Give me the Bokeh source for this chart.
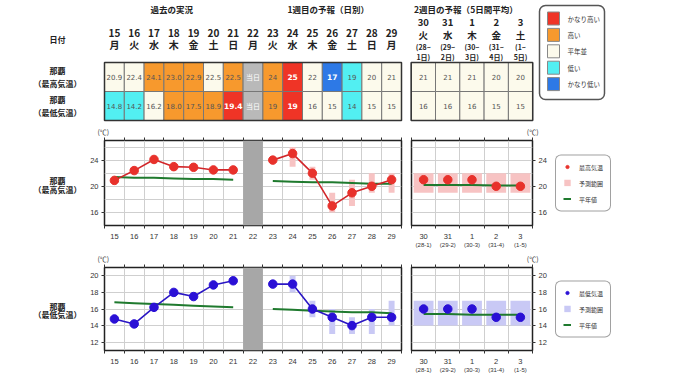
from bokeh.plotting import figure
from bokeh.models import Range1d, FixedTicker, LinearAxis, Legend, LegendItem, Title, Quad
from bokeh.layouts import row, column
from bokeh.embed import file_html
from bokeh.resources import INLINE
from bokeh.core.properties import value

# ---------------- data ----------------
station = "那覇"
label_head = "日付"
label_hi = "（最高気温）"
label_lo = "（最低気温）"
section_titles = ["過去の実況", "1週目の予報（日別）", "2週目の予報（5日間平均）"]
today_label = "当日"

days_w1 = ["15", "16", "17", "18", "19", "20", "21", "22", "23", "24", "25", "26", "27", "28", "29"]
wdays_w1 = ["月", "火", "水", "木", "金", "土", "日", "月", "火", "水", "木", "金", "土", "日", "月"]
days_w2 = ["30", "31", "1", "2", "3"]
wdays_w2 = ["火", "水", "木", "金", "土"]
span_head_1 = ["(28~", "(29~", "(30~", "(31~", "(1~"]
span_head_2 = ["1日)", "2日)", "3日)", "4日)", "5日)"]
span_axis = ["(28-1)", "(29-2)", "(30-3)", "(31-4)", "(1-5)"]

hi_obs = [20.9, 22.4, 24.1, 23.0, 22.9, 22.5, 22.5]
hi_fc = [24, 25, 22, 17, 19, 20, 21]
hi_fc_low = [None, 23, 21, 16, 17, 19, 19]
hi_fc_high = [None, 26, 23, 19, 21, 22, 22]
hi_w2 = [21, 21, 21, 20, 20]
hi_w2_low = [19, 19, 19, 19, 19]
hi_w2_high = [22, 22, 22, 22, 22]
hi_normal_w1 = [21.4, 21.3, 21.3, 21.2, 21.1, 21.1, 21.0, 20.9, 20.8, 20.7, 20.6, 20.6, 20.5, 20.4, 20.4]
hi_normal_w2 = [20.2, 20.2, 20.2, 20.1, 20.1]
hi_class_w1 = ["n", "n", "h", "h", "h", "n", "h", "t", "h", "vh", "n", "vl", "l", "n", "n"]
hi_class_w2 = ["n", "n", "n", "n", "n"]

lo_obs = [14.8, 14.2, 16.2, 18.0, 17.5, 18.9, 19.4]
lo_fc = [19, 19, 16, 15, 14, 15, 15]
lo_fc_low = [None, 18, 15, 13, 13, 13, 14]
lo_fc_high = [None, 20, 17, 16, 15, 16, 17]
lo_w2 = [16, 16, 16, 15, 15]
lo_w2_low = [14, 14, 14, 14, 14]
lo_w2_high = [17, 17, 17, 17, 17]
lo_normal_w1 = [16.8, 16.7, 16.6, 16.5, 16.4, 16.3, 16.2, 16.1, 16.0, 15.9, 15.8, 15.7, 15.6, 15.6, 15.5]
lo_normal_w2 = [15.4, 15.4, 15.3, 15.3, 15.3]
lo_class_w1 = ["l", "l", "n", "h", "h", "h", "vh", "t", "h", "vh", "n", "n", "l", "n", "n"]
lo_class_w2 = ["n", "n", "n", "n", "n"]

class_keys = ["vh", "h", "n", "l", "vl"]
class_names = ["かなり高い", "高い", "平年並", "低い", "かなり低い"]
series_hi = ["最高気温", "予測範囲", "平年値"]
series_lo = ["最低気温", "予測範囲", "平年値"]

# ---------------- style ----------------
JP = "Noto Sans CJK JP"
SANS = "Liberation Sans"
CELL_FONT = "DejaVu Sans"
TXT = "#222222"
CLASS_COLORS = {"vh": "#ef3426", "h": "#f7992d", "n": "#fcfaec", "l": "#52eff2",
                "vl": "#2d79e6", "t": "#b9b9b9"}
STRONG = {"vh", "vl"}

ROW_A_H = 122
LABEL_W = 82
W1_W = 321
W2_W = 151
T2_W = 132
LEG_A_W = 77
LEGF_W = 70
COL1 = 19.8
COL2 = 24.3
W1_LEFT = 104
W2_LEFT = 410.7
CELL_TOP = 62
CELL_H = 29
LABEL_X = 57

HAS_QUAD_RADIUS = "border_radius" in Quad.properties()
HAS_LEG_RADIUS = "border_radius" in Legend.properties()


def new_fig(width, height, xr, yr, **kw):
    p = figure(width=width, height=height, x_range=xr, y_range=yr, output_backend="svg",
               toolbar_location=None, tools="", **kw)
    p.background_fill_color = "white"
    p.border_fill_color = "white"
    return p


def blank_fig(width, height, xr, yr=None, top_pad=0):
    p = new_fig(width, height, xr, yr if yr is not None else Range1d(height, 0),
                x_axis_location=None, y_axis_location=None, min_border_left=0,
                min_border_right=0, min_border_top=top_pad, min_border_bottom=0)
    p.grid.visible = False
    p.outline_line_color = None
    return p


def put_text(p, xs, ys, texts, size, color=TXT, bold=False, font=JP, align="center"):
    p.text(x=list(xs), y=list(ys), text=list(texts), text_font=value(font),
           text_font_size=value(size), text_color=color,
           text_font_style="bold" if bold else "normal",
           text_align=align, text_baseline="middle")


def cell_texts(obs, fc, classes):
    out = [f"{v:.1f}" for v in obs] + [today_label] + [str(v) for v in fc]
    return out[:len(classes)]


def draw_table(p, rows):
    n = len(rows[0][0])
    for r, (classes, texts) in enumerate(rows):
        top = CELL_TOP + CELL_H * r
        bot = top + CELL_H
        p.quad(left=list(range(n)), right=[i + 1 for i in range(n)], top=[top] * n,
               bottom=[bot] * n, fill_color=[CLASS_COLORS[c] for c in classes],
               line_color="#777777", line_width=1)
        ymid = top + CELL_H / 2
        norm = [i for i, c in enumerate(classes) if c not in STRONG and c != "t"]
        strong = [i for i, c in enumerate(classes) if c in STRONG]
        today = [i for i, c in enumerate(classes) if c == "t"]
        put_text(p, [i + 0.5 for i in norm], [ymid] * len(norm), [texts[i] for i in norm],
                 "7px", color="#555555", font=CELL_FONT)
        put_text(p, [i + 0.5 for i in strong], [ymid] * len(strong), [texts[i] for i in strong],
                 "7.5px", color="white", bold=True, font=CELL_FONT)
        put_text(p, [i + 0.5 for i in today], [ymid] * len(today), [texts[i] for i in today],
                 "7px", color="white", font=JP)
    p.quad(left=[0], right=[n], top=[CELL_TOP], bottom=[CELL_TOP + 2 * CELL_H],
           fill_color=None, line_color="#333333", line_width=1.5)


# ---------------- row A : table ----------------
lab_a = blank_fig(LABEL_W, ROW_A_H, Range1d(0, LABEL_W))
put_text(lab_a, [LABEL_X] * 5, [39, 70, 83, 99, 112],
         [label_head, station, label_hi, station, label_lo], "8px", bold=True)

t1 = blank_fig(W1_W, ROW_A_H, Range1d((LABEL_W - W1_LEFT) / COL1,
                                      (LABEL_W + W1_W - W1_LEFT) / COL1))
draw_table(t1, [(hi_class_w1, cell_texts(hi_obs, hi_fc, hi_class_w1)),
                (lo_class_w1, cell_texts(lo_obs, lo_fc, lo_class_w1))])
n1 = len(days_w1)
put_text(t1, [i + 0.5 for i in range(n1)], [32] * n1, days_w1, "10px", bold=True)
put_text(t1, [i + 0.5 for i in range(n1)], [43.5] * n1, wdays_w1, "10px", bold=True)
put_text(t1, [3.4, 11.3], [8, 8], section_titles[:2], "8.5px", bold=True)

x2_start = LABEL_W + W1_W
t2 = blank_fig(T2_W, ROW_A_H, Range1d((x2_start - W2_LEFT) / COL2,
                                      (x2_start + T2_W - W2_LEFT) / COL2))
draw_table(t2, [(hi_class_w2, [str(v) for v in hi_w2]),
                (lo_class_w2, [str(v) for v in lo_w2])])
n2 = len(days_w2)
put_text(t2, [i + 0.5 for i in range(n2)], [21.5] * n2, days_w2, "9.5px", bold=True)
put_text(t2, [i + 0.5 for i in range(n2)], [34] * n2, wdays_w2, "9.5px", bold=True)
put_text(t2, [i + 0.5 for i in range(n2)], [46] * n2, span_head_1, "7px", bold=True)
put_text(t2, [i + 0.5 for i in range(n2)], [56.5] * n2, span_head_2, "7px", bold=True)
put_text(t2, [2.25], [8], section_titles[2:], "8.5px", bold=True)

leg_a = blank_fig(LEG_A_W, ROW_A_H, Range1d(0, LEG_A_W))
box_kw = {"border_radius": 6} if HAS_QUAD_RADIUS else {}
leg_a.quad(left=[4], right=[69], top=[5], bottom=[99], fill_color="white",
           line_color="#555555", line_width=1.5, **box_kw)
ys_leg = [18 + 16.4 * k for k in range(len(class_keys))]
leg_a.quad(left=[12] * 5, right=[24] * 5, top=[y - 6.5 for y in ys_leg],
           bottom=[y + 6.5 for y in ys_leg], fill_color=[CLASS_COLORS[k] for k in class_keys],
           line_color="#888888", line_width=1)
put_text(leg_a, [32] * 5, ys_leg, class_names, "6.5px", color="#333333", align="left")

row_a = row(lab_a, t1, t2, leg_a)


# ---------------- chart rows ----------------
def style_axis(ax, size="7.5px"):
    ax.axis_line_color = None
    ax.major_label_text_font = SANS
    ax.major_label_text_font_size = size
    ax.major_label_text_color = "#333333"
    ax.major_tick_line_color = "#333333"
    ax.minor_tick_line_color = "#333333"


def setup_panel(p, n, labels, ytick, ygrid):
    p.outline_line_color = "#222222"
    p.outline_line_width = 1.5
    p.outline_line_alpha = 1
    p.xgrid.grid_line_color = "#cfcfcf"
    p.ygrid.grid_line_color = "#cfcfcf"
    p.xgrid.ticker = FixedTicker(ticks=[i + 0.5 for i in range(n - 1)])
    p.ygrid.ticker = FixedTicker(ticks=ygrid)
    xa = p.xaxis[0]
    style_axis(xa)
    xa.ticker = FixedTicker(ticks=list(range(n)), minor_ticks=[i - 0.5 for i in range(n + 1)])
    xa.major_label_overrides = {i: d for i, d in enumerate(labels)}
    xa.major_tick_out = 0
    xa.major_tick_in = 0
    xa.minor_tick_out = 3
    xa.minor_tick_in = 0
    xa.major_label_standoff = 5
    ya = p.yaxis[0]
    style_axis(ya)
    ya.ticker = FixedTicker(ticks=ytick)
    ya.major_tick_out = 3
    ya.major_tick_in = 0
    ya.minor_tick_out = 0
    ya.major_label_standoff = 3
    top = LinearAxis(ticker=FixedTicker(ticks=[], minor_ticks=[i - 0.5 for i in range(n + 1)]))
    style_axis(top)
    top.major_label_text_font_size = "0px"
    top.major_label_standoff = 0
    top.major_tick_out = 0
    top.minor_tick_out = 3
    top.minor_tick_in = 0
    p.add_layout(top, "above")


def unit_title(align, offset):
    return Title(text="(℃)", align=align, offset=offset, text_font=JP, text_font_size="7px",
                 text_font_style="normal", text_color="#333333", standoff=2)


def chart_row(H, mt, mb, yr, ytick, ygrid, obs, fc, fc_lo, fc_hi, norm1, cls1,
              w2, w2_lo, w2_hi, norm2, line_col, pt_col, rng_col, names, label_text, label_ys,
              legend_pad):
    lab = blank_fig(LABEL_W, H, Range1d(0, LABEL_W))
    put_text(lab, [LABEL_X, LABEL_X], label_ys, [station, label_text], "8px", bold=True)

    n1 = len(days_w1)
    p1 = new_fig(W1_W, H, Range1d(-0.5, n1 - 0.5), Range1d(*yr), min_border_left=22,
                 min_border_right=2, min_border_top=mt, min_border_bottom=mb)
    p1.title = unit_title("left", -7)
    setup_panel(p1, n1, days_w1, ytick, ygrid)
    t_idx = cls1.index("t")
    obs_x = list(range(len(obs)))
    fc_x = list(range(t_idx + 1, t_idx + 1 + len(fc)))
    rx = [x for x, lo in zip(fc_x, fc_lo) if lo is not None]
    p1.vbar(x=rx, bottom=[v for v in fc_lo if v is not None],
            top=[v for v in fc_hi if v is not None], width=0.3, fill_color=rng_col, line_color=None)
    p1.vbar(x=[t_idx], bottom=[yr[0]], top=[yr[1]], width=1.0, fill_color="#a7a7a7", line_color=None)
    p1.line(obs_x, norm1[:len(obs)], line_color="#1f7a2e", line_width=2)
    p1.line(fc_x, norm1[t_idx + 1:], line_color="#1f7a2e", line_width=2)
    for xs, ys in ((obs_x, obs), (fc_x, fc)):
        p1.line(xs, ys, line_color=line_col, line_width=1.6)
        p1.scatter(xs, ys, size=8.5, fill_color=pt_col, line_color=pt_col)

    n2 = len(days_w2)
    p2 = new_fig(W2_W, H, Range1d(-0.5, n2 - 0.5), Range1d(*yr), min_border_left=8,
                 min_border_right=22, min_border_top=mt, min_border_bottom=mb,
                 y_axis_location="right")
    p2.title = unit_title("right", -6)
    setup_panel(p2, n2, days_w2, ytick, ygrid)
    sub = LinearAxis(ticker=FixedTicker(ticks=list(range(n2))))
    style_axis(sub, "6px")
    sub.major_label_overrides = {i: s for i, s in enumerate(span_axis)}
    sub.major_tick_out = 0
    sub.major_tick_in = 0
    sub.minor_tick_out = 0
    sub.major_label_standoff = 0
    p2.add_layout(sub, "below")
    x2 = list(range(n2))
    p2.vbar(x=x2, bottom=w2_lo, top=w2_hi, width=0.82, fill_color=rng_col, line_color=None)
    p2.line(x2, norm2, line_color="#1f7a2e", line_width=2)
    p2.scatter(x2, w2, size=8.5, fill_color=pt_col, line_color=pt_col)

    # legend panel: the same series drawn outside its visible range, used only as legend keys
    lf = blank_fig(LEGF_W, H, Range1d(-100, -99), Range1d(*yr), top_pad=legend_pad)
    r_rng = lf.vbar(x=x2, bottom=w2_lo, top=w2_hi, width=0.82, fill_color=rng_col, line_color=None)
    r_norm = lf.line(x2, norm2, line_color="#1f7a2e", line_width=2)
    r_pts = lf.scatter(x2, w2, size=8.5, fill_color=pt_col, line_color=pt_col)
    leg = Legend(items=[LegendItem(label=names[0], renderers=[r_pts]),
                        LegendItem(label=names[1], renderers=[r_rng]),
                        LegendItem(label=names[2], renderers=[r_norm])],
                 location="center_left")
    leg.label_text_font = JP
    leg.label_text_font_size = "6px"
    leg.label_text_color = "#333333"
    leg.glyph_width = 8
    leg.glyph_height = 8
    leg.label_height = 9
    leg.label_standoff = 8
    leg.padding = 7
    leg.spacing = 7
    leg.margin = 1
    leg.border_line_color = "#444444"
    leg.border_line_width = 1.2
    if HAS_LEG_RADIUS:
        leg.border_radius = 6
    lf.add_layout(leg)
    return row(lab, p1, p2, lf)


row_b = chart_row(128, 18, 22, (14, 27), [16, 20, 24], [16, 18, 20, 22, 24, 26],
                  hi_obs, hi_fc, hi_fc_low, hi_fc_high, hi_normal_w1, hi_class_w1,
                  hi_w2, hi_w2_low, hi_w2_high, hi_normal_w2,
                  "#d1262a", "#e8312b", "#f7c3c3", series_hi, label_hi, [60, 74], 13)
row_c = chart_row(125, 15, 22, (11, 21), [12, 14, 16, 18, 20], [12, 14, 16, 18, 20],
                  lo_obs, lo_fc, lo_fc_low, lo_fc_high, lo_normal_w1, lo_class_w1,
                  lo_w2, lo_w2_low, lo_w2_high, lo_normal_w2,
                  "#2a16c4", "#2a10d6", "#c9c9f5", series_lo, label_lo, [58, 71], 7)

layout = column(row_a, row_b, row_c)
open("out.html", "w").write(file_html(layout, INLINE))
